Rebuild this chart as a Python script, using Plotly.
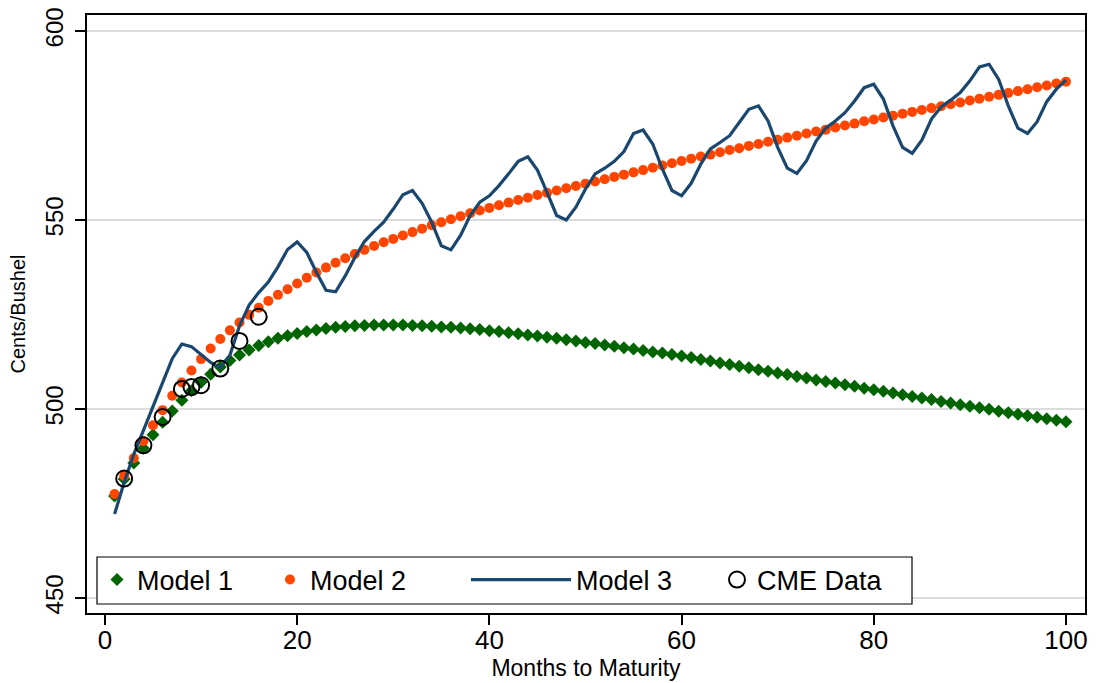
import plotly.graph_objects as go

# Months to maturity for the model curves
months = list(range(1, 101))

# Model 1: futures curve (cents/bushel)
model1 = [
    477.0, 481.5, 485.7, 489.6, 493.2, 496.5, 499.5, 502.3, 504.8, 507.1,
    509.2, 511.1, 512.8, 514.3, 515.6, 516.8, 517.8, 518.7, 519.4, 520.0,
    520.5, 520.9, 521.3, 521.6, 521.8, 522.0, 522.1, 522.2, 522.2, 522.2,
    522.2, 522.1, 522.0, 521.9, 521.7, 521.6, 521.4, 521.2, 521.0, 520.7,
    520.5, 520.2, 519.9, 519.6, 519.3, 519.0, 518.7, 518.3, 518.0, 517.6,
    517.3, 516.9, 516.6, 516.2, 515.9, 515.5, 515.1, 514.8, 514.4, 514.0,
    513.6, 513.1, 512.7, 512.2, 511.8, 511.3, 510.9, 510.4, 510.0, 509.5,
    509.1, 508.6, 508.2, 507.7, 507.3, 506.9, 506.4, 506.0, 505.5, 505.1,
    504.7, 504.2, 503.8, 503.3, 502.9, 502.5, 502.0, 501.6, 501.1, 500.7,
    500.3, 499.9, 499.4, 499.0, 498.6, 498.2, 497.8, 497.4, 497.0, 496.6,
]

# Model 2: futures curve (cents/bushel)
model2 = [
    477.5, 482.3, 487.0, 491.5, 495.7, 499.7, 503.5, 507.0, 510.2, 513.2,
    516.0, 518.5, 520.8, 522.9, 524.9, 526.8, 528.6, 530.2, 531.7, 533.2,
    534.7, 536.1, 537.4, 538.7, 539.9, 541.0, 542.1, 543.1, 544.1, 545.0,
    545.9, 546.8, 547.7, 548.6, 549.4, 550.2, 551.0, 551.8, 552.5, 553.2,
    553.9, 554.6, 555.3, 555.9, 556.6, 557.2, 557.8, 558.4, 559.0, 559.6,
    560.2, 560.8, 561.4, 562.0, 562.6, 563.2, 563.8, 564.4, 565.0, 565.6,
    566.2, 566.8, 567.3, 567.9, 568.5, 569.0, 569.6, 570.1, 570.7, 571.2,
    571.8, 572.3, 572.9, 573.4, 573.9, 574.5, 575.0, 575.5, 576.1, 576.6,
    577.1, 577.6, 578.1, 578.6, 579.1, 579.6, 580.1, 580.6, 581.1, 581.6,
    582.1, 582.6, 583.1, 583.6, 584.1, 584.6, 585.1, 585.6, 586.1, 586.6,
]

# Model 3: seasonal futures curve (cents/bushel)
model3 = [
    472.2, 480.6, 488.0, 494.5, 500.9, 507.0, 513.3, 517.2, 516.5, 514.4,
    512.3, 510.9, 514.2, 522.0, 527.5, 530.8, 533.6, 537.6, 542.2, 544.2,
    541.4, 536.2, 531.4, 531.0, 535.2, 540.1, 544.3, 547.0, 549.4, 552.9,
    556.7, 557.8, 554.4, 549.4, 543.2, 542.1, 545.9, 551.2, 554.7, 556.4,
    559.1, 562.2, 565.5, 566.7, 563.2, 557.3, 551.2, 550.0, 553.4, 558.2,
    562.2, 563.7, 565.5, 568.1, 572.9, 573.8, 570.1, 563.5, 557.8, 556.4,
    559.7, 564.8, 568.8, 570.5, 572.3, 575.8, 579.3, 580.2, 576.2, 569.2,
    563.7, 562.3, 565.7, 570.9, 574.3, 576.2, 578.4, 581.5, 585.0, 585.9,
    582.0, 574.9, 569.2, 567.6, 571.1, 576.7, 579.9, 581.7, 583.7, 586.8,
    590.5, 591.2, 587.2, 580.2, 574.3, 572.9, 576.0, 581.3, 584.6, 587.0,
]

# Observed CME futures settlement prices
cme_months = [2, 4, 6, 8, 9, 10, 12, 14, 16]
cme_prices = [481.6, 490.4, 497.9, 505.3, 505.8, 506.3, 510.7, 518.0, 524.4]

x_ticks = [0, 20, 40, 60, 80, 100]
y_ticks = [450, 500, 550, 600]

FONT = "Liberation Sans, Arial, sans-serif"
GREEN = "#006400"
ORANGE = "#FF4500"
NAVY = "#1A476F"

fig = go.Figure()

fig.add_trace(go.Scatter(
    x=months, y=model1, mode="markers", name="Model 1", legend="legend",
    legendwidth=128,
    marker=dict(symbol="diamond", size=10, color=GREEN, line=dict(width=0)),
))
fig.add_trace(go.Scatter(
    x=months, y=model2, mode="markers", name="Model 2", legend="legend",
    legendwidth=110,
    marker=dict(symbol="circle", size=10, color=ORANGE, line=dict(width=0)),
))
fig.add_trace(go.Scatter(
    x=months, y=model3, mode="lines", name="Model 3", legend="legend2",
    line=dict(color=NAVY, width=3.2),
))
fig.add_trace(go.Scatter(
    x=cme_months, y=cme_prices, mode="markers", name="CME Data", legend="legend3",
    marker=dict(symbol="circle-open", size=16, color="black", line=dict(width=2)),
))

# plot area in pixels: left 87, right 1085, top 15, bottom 613
PL, PR, PT, PB = 87, 1085, 15, 613
PW, PH = PR - PL, PB - PT


def px_x(p):
    return (p - PL) / PW


def px_y(p):
    return (PB - p) / PH


legend_common = dict(
    orientation="h", yanchor="middle", xanchor="left",
    bgcolor="rgba(0,0,0,0)", borderwidth=0,
    font=dict(family=FONT, size=27, color="black"),
)

fig.update_layout(
    width=1099, height=683,
    margin=dict(l=PL, r=1099 - PR, t=PT, b=683 - PB, autoexpand=False),
    paper_bgcolor="white", plot_bgcolor="white",
    font=dict(family=FONT, color="black"),
    legend=dict(x=px_x(97), y=px_y(580), **legend_common),
    legend2=dict(x=px_x(466), y=px_y(580), itemwidth=100, **legend_common),
    legend3=dict(x=px_x(717), y=px_y(580), **legend_common),
    shapes=[dict(
        type="rect", xref="paper", yref="paper", layer="above",
        x0=px_x(97), x1=px_x(912), y0=px_y(604), y1=px_y(557),
        line=dict(color="black", width=1.2), fillcolor="white",
    )],
)

fig.update_xaxes(
    range=[-1.87, 101.98], tickvals=x_ticks, automargin=False,
    ticks="outside", ticklen=10, tickwidth=1.5, tickcolor="black",
    showline=True, mirror=True, linecolor="black", linewidth=1.5,
    showgrid=False, zeroline=False,
    tickfont=dict(family=FONT, size=26), ticklabelstandoff=-7,
    title=dict(text="Months to Maturity", font=dict(family=FONT, size=23), standoff=0),
)
fig.update_yaxes(
    range=[446.03, 604.23], tickvals=y_ticks, tickangle=-90, automargin=False,
    ticks="outside", ticklen=10, tickwidth=1.5, tickcolor="black",
    showline=True, mirror=True, linecolor="black", linewidth=1.5,
    showgrid=True, gridcolor="#DCDCDC", gridwidth=1.5, zeroline=False,
    tickfont=dict(family=FONT, size=24), ticklabelstandoff=3,
    title=dict(text="Cents/Bushel", font=dict(family=FONT, size=20), standoff=10),
)

fig.write_html("out.html")
